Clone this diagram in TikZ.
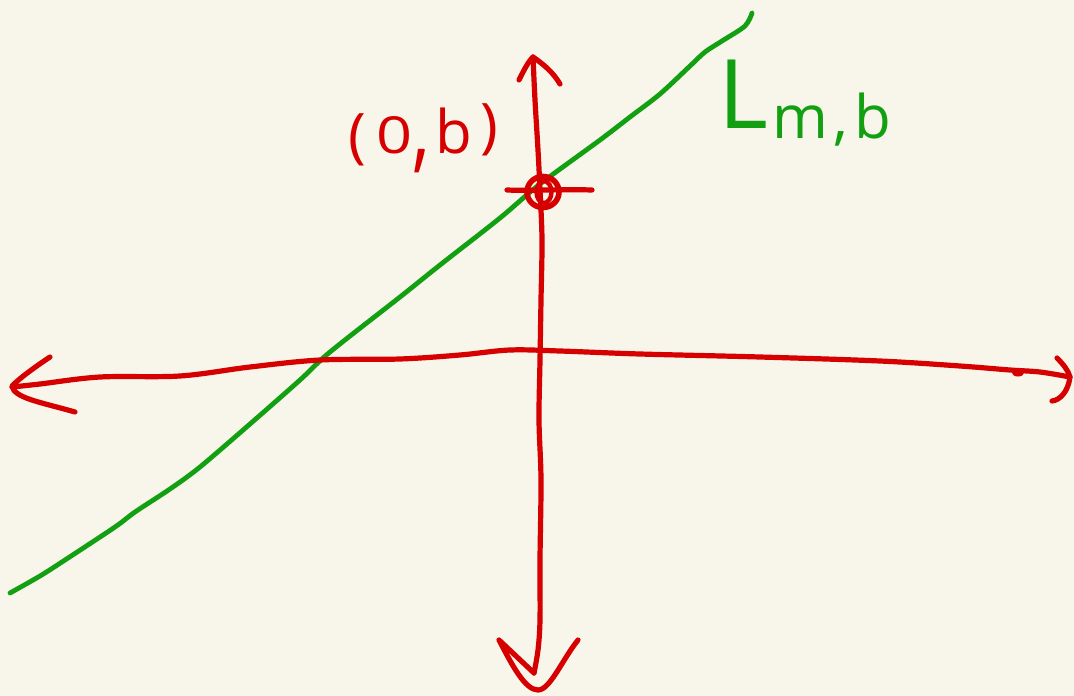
\documentclass[tikz,border=0pt]{standalone}
\usepackage{graphicx}
\usepackage{fontspec}
\setmainfont{Open Sans}
\definecolor{paper}{RGB}{248,246,234}
\definecolor{inkred}{RGB}{214,0,0}
\definecolor{inkgreen}{RGB}{18,160,18}
\begin{document}
\begin{tikzpicture}[x=1pt,y=-1pt,
  redink/.style={draw=inkred,line width=5.2pt,line cap=round,line join=round},
  greenink/.style={draw=inkgreen,line width=4.8pt,line cap=round,line join=round},
  lbl/.style={inner sep=0pt}]
\useasboundingbox (0,0) rectangle (1074,696);
\fill[paper] (0,0) rectangle (1074,696);
% green line L_{m,b}
\draw[greenink] plot[smooth,tension=0.5] coordinates {(10,593) (40,576) (65,560) (115,527) (135,512) (170,489) (200,467) (250,424) (300,380) (330,352) (400,297) (440,265) (500,218) (540,184) (600,140) (630,117) (660,94) (690,66) (705,52) (722,41) (745,26) (752,13)};
% horizontal axis
\draw[redink] plot[smooth,tension=0.55] coordinates {(12,387) (40,384) (100,377) (180,376) (250,367) (320,360) (400,359) (460,355) (510,350) (560,351) (640,354) (760,357) (880,361) (960,366) (1010,370) (1040,372) (1070,377)};
\draw[redink] (50,357) .. controls (32,369) and (20,378) .. (12,386) .. controls (14,398) and (40,402) .. (75,412);
\draw[redink] (1057,358) .. controls (1063,364) and (1068,370) .. (1070,377) .. controls (1068,392) and (1060,400) .. (1052,401);
\fill[inkred] (1018,373) ellipse (6 and 3.5);
% vertical axis
\draw[redink] plot[smooth,tension=0.55] coordinates {(533,57) (535,100) (538,150) (540,190) (542,240) (541,300) (540,360) (539,420) (541,480) (540,560) (540,620) (538,650) (534,673)};
\draw[redink] (519,80) .. controls (524,70) and (528,62) .. (533,57) .. controls (543,64) and (553,72) .. (560,84);
\draw[redink] (534,673) -- (499,640) .. controls (512,665) and (525,690) .. (538,690) .. controls (550,690) and (562,660) .. (578,640);
% the point (0,b)
\coordinate (pt) at (543,192);
\draw[redink] (507,190) .. controls (530,191) and (560,189) .. (592,190);
\draw[redink,line width=5.6pt] (pt) ellipse (16 and 15.5);
\draw[redink,line width=4.4pt] ([xshift=1pt]pt) ellipse (7.5 and 11);
% labels
\node[lbl,text=inkred,anchor=base west] (pointlabel) at (346,153)
  {\fontsize{60}{60}\selectfont\makebox[22pt]{\raisebox{-3pt}{(}}\hspace{10pt}\makebox[32pt]{\scalebox{1.05}[0.85]{0}}\makebox[22pt]{\raisebox{-7pt}{\scalebox{1.2}[1.6]{,}}}\hspace{4pt}\makebox[36pt]{b}\hspace{4pt}\makebox[26pt]{\raisebox{7pt}{)}}};
\node[lbl,text=inkgreen,anchor=base west] (linelabel) at (718,128)
  {\fontsize{96}{96}\selectfont\makebox[56pt][l]{L}\raisebox{-10pt}{\fontsize{60}{60}\selectfont\makebox[52pt]{m}\makebox[29pt]{,}\makebox[36pt]{b}}};
\end{tikzpicture}
\end{document}
